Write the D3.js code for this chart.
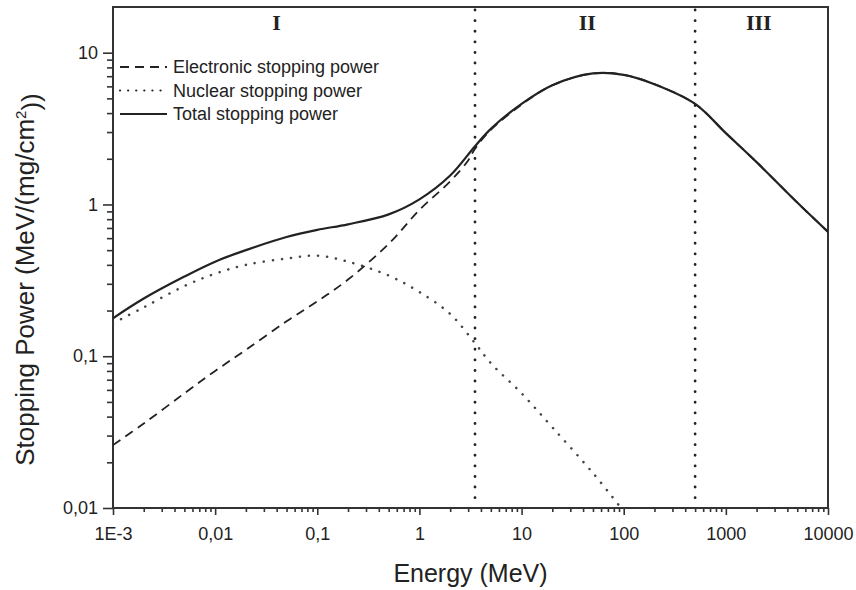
<!DOCTYPE html>
<html>
<head>
<meta charset="utf-8">
<script src="https://cdn.jsdelivr.net/npm/d3@7"></script>
<style>
  body { margin: 0; background: #fff; }
  svg { display: block; font-family: "Liberation Sans", Arial, sans-serif; }
</style>
</head>
<body>
<svg id="chart" width="856" height="590"></svg>
<script>
// energies in MeV, stopping power in MeV/(mg/cm2)
const totalEnergy = [0.001, 0.002, 0.005, 0.01, 0.02, 0.05, 0.1, 0.2, 0.5, 1, 2, 3.5, 5, 10, 20, 50, 100, 200, 500, 1000, 2000, 5000, 10000];
const totalPower = [0.178, 0.24, 0.335, 0.42, 0.5, 0.61, 0.68, 0.74, 0.86, 1.08, 1.55, 2.42, 3.15, 4.6, 6.1, 7.3, 7.15, 6.2, 4.6, 2.95, 1.9, 1.03, 0.66];

const electronicEnergy = [0.001, 0.002, 0.005, 0.01, 0.02, 0.05, 0.1, 0.2, 0.5, 1, 2, 3, 3.5, 5, 10, 20, 50, 100, 200, 500, 1000, 2000, 5000, 10000];
const electronicPower = [0.026, 0.036, 0.057, 0.08, 0.11, 0.17, 0.23, 0.32, 0.55, 0.92, 1.42, 1.95, 2.33, 3.1, 4.55, 6.1, 7.3, 7.15, 6.2, 4.6, 2.95, 1.9, 1.03, 0.66];

const nuclearEnergy = [0.001, 0.002, 0.005, 0.01, 0.02, 0.05, 0.1, 0.2, 0.5, 1, 2, 3.5, 5, 10, 20, 50, 100];
const nuclearPower = [0.165, 0.21, 0.29, 0.35, 0.4, 0.44, 0.46, 0.42, 0.34, 0.265, 0.19, 0.122, 0.09, 0.057, 0.034, 0.017, 0.0095];

const xTicks = [0.001, 0.01, 0.1, 1, 10, 100, 1000, 10000];
const xTickLabels = ["1E-3", "0,01", "0,1", "1", "10", "100", "1000", "10000"];
const yTicks = [0.01, 0.1, 1, 10];
const yTickLabels = ["0,01", "0,1", "1", "10"];

const regionBounds = [3.5, 500];
const regionNames = ["I", "II", "III"];
const regionCenters = [0.04, 44, 2100];

const legendNames = ["Electronic stopping power", "Nuclear stopping power", "Total stopping power"];

const plotLeft = 113, plotRight = 828, plotTop = 7, plotBottom = 508;
const ink = "#222";

const svg = d3.select("#chart");

const x = d3.scaleLog().domain([1e-3, 1e4]).range([plotLeft, plotRight]);
const y = d3.scaleLog().domain([0.01, 20]).range([plotBottom, plotTop]);

function minors(majors, max) {
  const out = [];
  majors.forEach((m) => {
    for (let k = 2; k <= 9; k++) {
      if (m * k < max) out.push(m * k);
    }
  });
  return out;
}

svg.append("defs")
  .append("clipPath")
  .attr("id", "plot")
  .append("rect")
  .attr("x", plotLeft)
  .attr("y", plotTop)
  .attr("width", plotRight - plotLeft)
  .attr("height", plotBottom - plotTop);

// x axis
const xMajor = svg.append("g")
  .attr("transform", `translate(0,${plotBottom})`)
  .call(d3.axisBottom(x).tickValues(xTicks).tickSize(7).tickPadding(12)
    .tickFormat((d, i) => xTickLabels[i]));
const xMinor = svg.append("g")
  .attr("transform", `translate(0,${plotBottom})`)
  .call(d3.axisBottom(x).tickValues(minors(xTicks, 1e4)).tickSize(4).tickFormat(""));

// y axis
const yMajor = svg.append("g")
  .attr("transform", `translate(${plotLeft},0)`)
  .call(d3.axisLeft(y).tickValues(yTicks).tickSize(10).tickPadding(5)
    .tickFormat((d, i) => yTickLabels[i]));
const yMinor = svg.append("g")
  .attr("transform", `translate(${plotLeft},0)`)
  .call(d3.axisLeft(y).tickValues(minors(yTicks, 20)).tickSize(6).tickFormat(""));

[xMajor, xMinor, yMajor, yMinor].forEach((g) => {
  g.select(".domain").remove();
  g.selectAll("line").attr("stroke", "#333").attr("stroke-width", 1.6);
  g.selectAll("text")
    .attr("fill", ink)
    .style("font-size", "18px")
    .style("font-family", "'Liberation Sans', Arial, sans-serif");
});

// frame
svg.append("rect")
  .attr("x", plotLeft)
  .attr("y", plotTop)
  .attr("width", plotRight - plotLeft)
  .attr("height", plotBottom - plotTop)
  .attr("fill", "none")
  .attr("stroke", "#333")
  .attr("stroke-width", 2);

// region separators
svg.selectAll(".sep")
  .data(regionBounds)
  .join("line")
  .attr("x1", (d) => x(d))
  .attr("x2", (d) => x(d))
  .attr("y1", plotTop + 3)
  .attr("y2", plotBottom)
  .attr("stroke", ink)
  .attr("stroke-width", 2.8)
  .attr("stroke-linecap", "round")
  .attr("stroke-dasharray", "0.1,10.5");

svg.selectAll(".region")
  .data(regionNames)
  .join("text")
  .attr("x", (d, i) => x(regionCenters[i]))
  .attr("y", 30)
  .attr("text-anchor", "middle")
  .style("font-family", "'Liberation Serif', 'Times New Roman', serif")
  .style("font-weight", "bold")
  .style("font-size", "22px")
  .attr("fill", ink)
  .text((d) => d);

// curves
const line = d3.line()
  .x((d) => x(d[0]))
  .y((d) => y(d[1]))
  .curve(d3.curveCatmullRom.alpha(0.5));

const plot = svg.append("g").attr("clip-path", "url(#plot)");

plot.append("path")
  .datum(nuclearEnergy.map((e, i) => [e, nuclearPower[i]]))
  .attr("d", line)
  .attr("fill", "none")
  .attr("stroke", "#444")
  .attr("stroke-width", 2.5)
  .attr("stroke-linecap", "round")
  .attr("stroke-dasharray", "0.1,9");

plot.append("path")
  .datum(electronicEnergy.map((e, i) => [e, electronicPower[i]]))
  .attr("d", line)
  .attr("fill", "none")
  .attr("stroke", ink)
  .attr("stroke-width", 1.8)
  .attr("stroke-dasharray", "9,6");

plot.append("path")
  .datum(totalEnergy.map((e, i) => [e, totalPower[i]]))
  .attr("d", line)
  .attr("fill", "none")
  .attr("stroke", ink)
  .attr("stroke-width", 2.2);

// legend
const legendStyles = [
  { dash: "9,6", width: 1.8, cap: "butt" },
  { dash: "0.1,8", width: 2.2, cap: "round" },
  { dash: null, width: 2, cap: "butt" },
];
const legend = svg.selectAll(".legend")
  .data(legendNames)
  .join("g")
  .attr("transform", (d, i) => `translate(120,${67 + i * 23.5})`);

legend.append("line")
  .attr("x1", 0)
  .attr("x2", 47)
  .attr("stroke", ink)
  .attr("stroke-width", (d, i) => legendStyles[i].width)
  .attr("stroke-linecap", (d, i) => legendStyles[i].cap)
  .attr("stroke-dasharray", (d, i) => legendStyles[i].dash);

legend.append("text")
  .attr("x", 53)
  .attr("dy", "0.35em")
  .style("font-size", "18px")
  .attr("fill", ink)
  .text((d) => d);

// axis titles
svg.append("text")
  .attr("x", (plotLeft + plotRight) / 2)
  .attr("y", 582)
  .attr("text-anchor", "middle")
  .style("font-size", "25px")
  .attr("fill", ink)
  .text("Energy (MeV)");

const yTitle = svg.append("text")
  .attr("transform", `translate(34,${(plotTop + plotBottom) / 2 + 22}) rotate(-90)`)
  .attr("text-anchor", "middle")
  .style("font-size", "26px")
  .attr("fill", ink);
yTitle.append("tspan").text("Stopping Power (MeV/(mg/cm");
yTitle.append("tspan").attr("dy", "-0.55em").style("font-size", "15px").text("2");
yTitle.append("tspan").attr("dy", "0.55em").text("))");
</script>
</body>
</html>
